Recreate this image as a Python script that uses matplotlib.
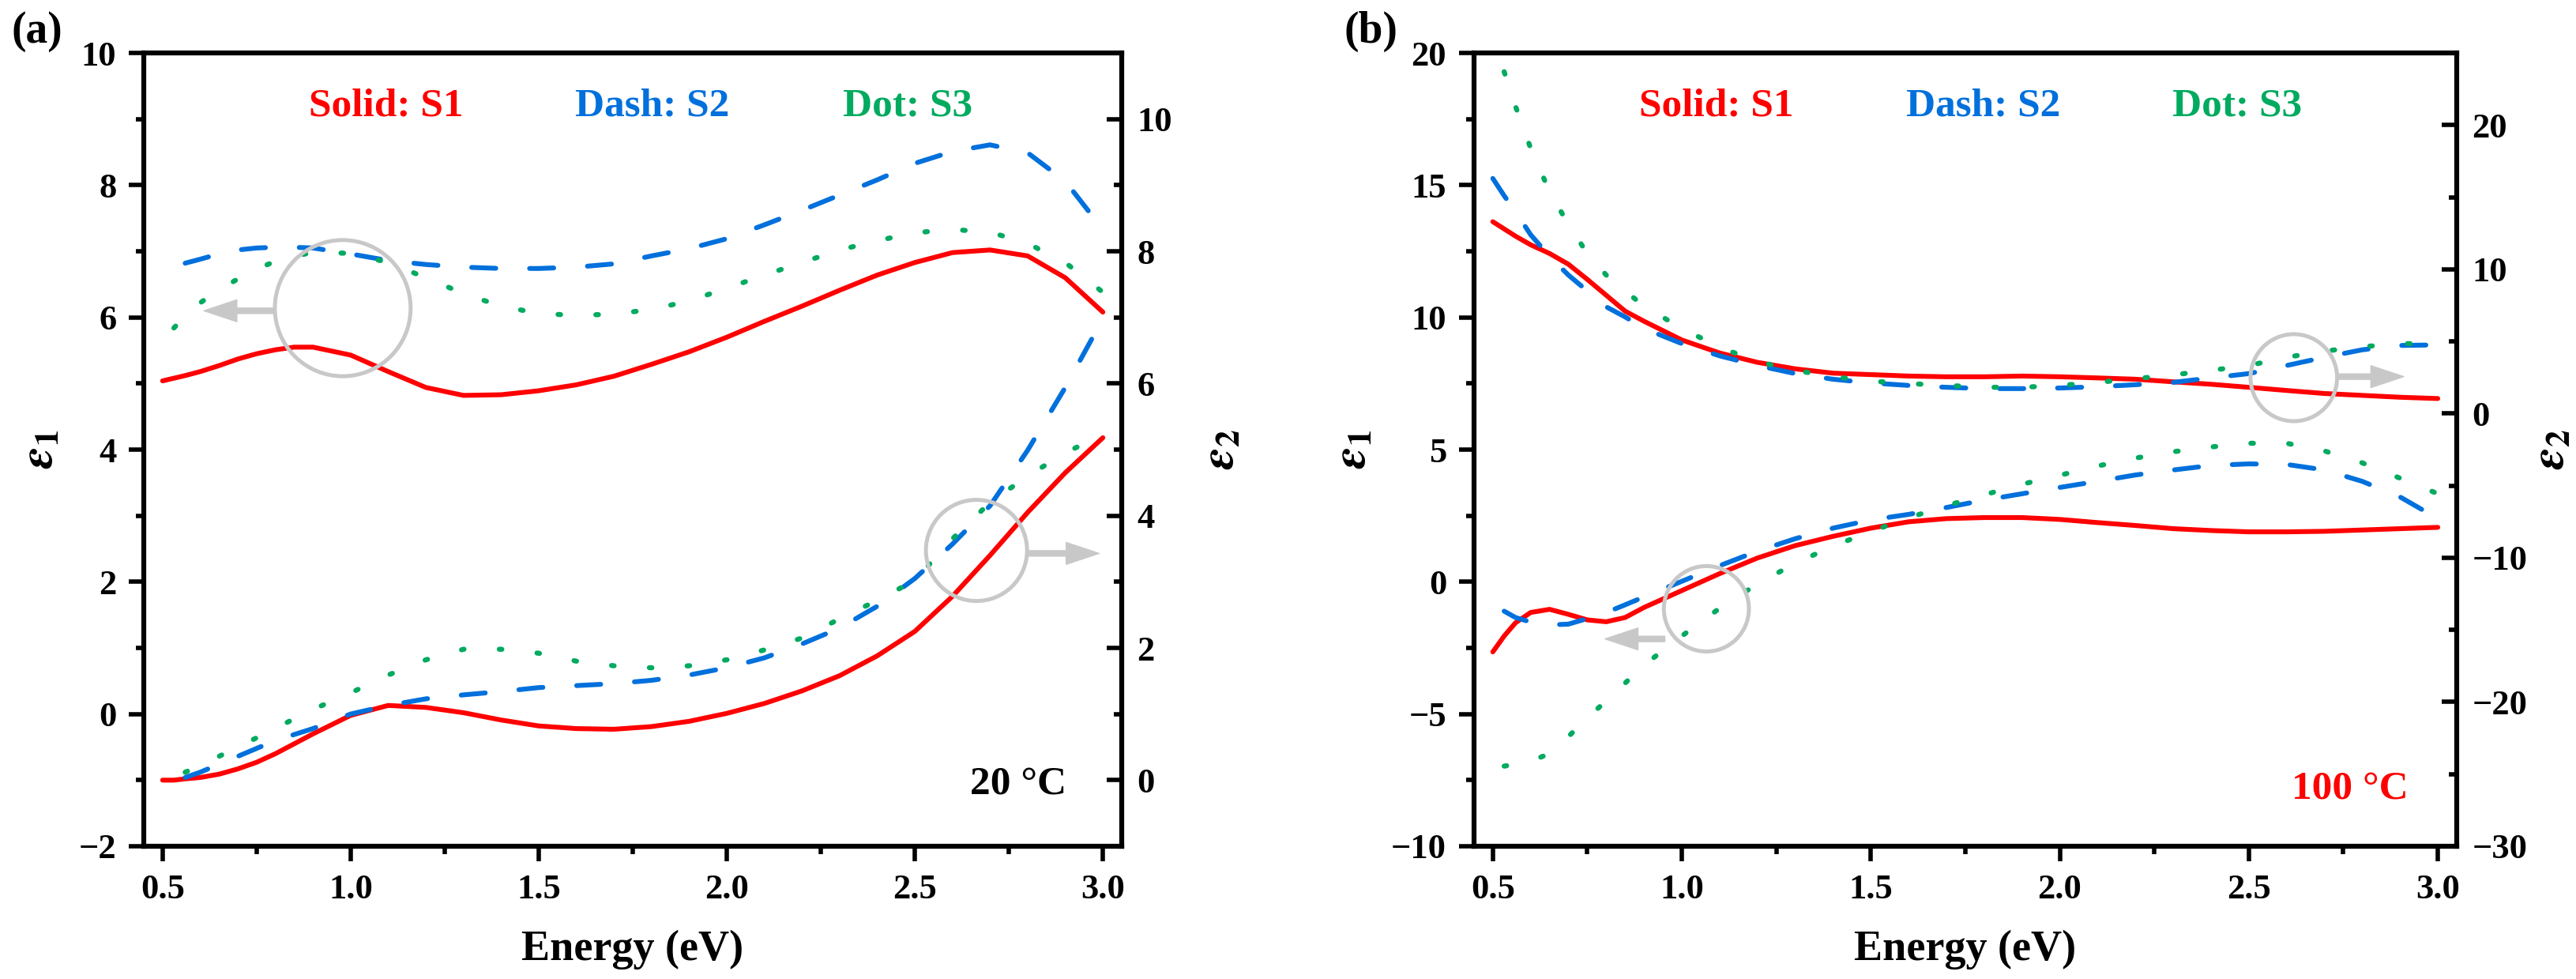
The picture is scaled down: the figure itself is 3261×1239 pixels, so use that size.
import numpy as np
import matplotlib.pyplot as plt
from matplotlib.patches import Ellipse, FancyArrowPatch, ArrowStyle
from matplotlib.ticker import MultipleLocator

plt.rcParams['font.family'] = ['Liberation Serif', 'DejaVu Serif']
plt.rcParams['font.weight'] = 'bold'
plt.rcParams['mathtext.fontset'] = 'stix'

nan = np.nan

# photon energy grid (eV), shared by every curve
energy = [0.5, 0.53, 0.56, 0.6, 0.65, 0.7, 0.75, 0.8, 0.85, 0.9,
          1.0, 1.1, 1.2, 1.3, 1.4, 1.5, 1.6, 1.7, 1.8, 1.9, 2.0,
          2.1, 2.2, 2.3, 2.4, 2.5, 2.6, 2.7, 2.8, 2.9, 3.0]

# (a) 20 C
a_eps1_s1 = [5.04, 5.08, 5.12, 5.18, 5.27, 5.37, 5.45, 5.51, 5.55, 5.55,
             5.43, 5.18, 4.94, 4.82, 4.83, 4.89, 4.98, 5.11, 5.29, 5.48, 5.70,
             5.94, 6.17, 6.41, 6.64, 6.83, 6.98, 7.02, 6.93, 6.60, 6.08]
a_eps1_s2 = [nan, nan, 6.82, 6.88, 6.96, 7.02, 7.05, 7.06, 7.06, 7.05,
             6.96, 6.86, 6.80, 6.76, 6.74, 6.74, 6.76, 6.81, 6.93, 7.04, 7.19,
             7.40, 7.62, 7.85, 8.08, 8.33, 8.51, 8.61, 8.49, 8.06, 7.33]
a_eps1_s3 = [nan, 5.84, 6.02, 6.22, 6.42, 6.58, 6.73, 6.85, 6.93, 6.98,
             6.97, 6.83, 6.60, 6.36, 6.17, 6.06, 6.03, 6.05, 6.12, 6.25, 6.44,
             6.64, 6.83, 7.02, 7.16, 7.28, 7.33, 7.29, 7.12, 6.83, 6.38]
a_eps2_s1 = [0.00, 0.00, 0.02, 0.04, 0.09, 0.17, 0.27, 0.40, 0.55, 0.70,
             0.98, 1.13, 1.10, 1.02, 0.91, 0.82, 0.78, 0.77, 0.81, 0.89, 1.01,
             1.16, 1.35, 1.58, 1.88, 2.25, 2.78, 3.40, 4.05, 4.65, 5.18]
a_eps2_s2 = [nan, nan, 0.04, 0.12, 0.24, 0.36, 0.48, 0.60, 0.69, 0.78,
             1.00, 1.13, 1.23, 1.29, 1.34, 1.40, 1.43, 1.46, 1.51, 1.59, 1.70,
             1.85, 2.06, 2.30, 2.63, 3.05, 3.57, 4.15, 4.99, 5.94, 6.98]
a_eps2_s3 = [nan, nan, 0.12, 0.22, 0.36, 0.50, 0.64, 0.78, 0.93, 1.07,
             1.32, 1.59, 1.82, 1.98, 1.98, 1.92, 1.80, 1.73, 1.70, 1.73, 1.82,
             1.97, 2.15, 2.44, 2.72, 3.02, 3.65, 4.20, 4.60, 4.95, 5.23]

# (b) 100 C
b_eps1_s1 = [-2.65, -2.05, -1.55, -1.16, -1.04, -1.23, -1.44, -1.51, -1.35, -0.97,
             -0.33, 0.31, 0.90, 1.37, 1.72, 2.03, 2.27, 2.39, 2.43, 2.43, 2.36,
             2.24, 2.13, 2.01, 1.94, 1.89, 1.89, 1.91, 1.96, 2.01, 2.06]
b_eps1_s2 = [nan, -1.11, -1.35, -1.52, -1.63, -1.60, -1.39, -1.16, -0.87, -0.57,
             0.02, 0.61, 1.16, 1.63, 2.03, 2.34, 2.55, 2.81, 3.09, 3.33, 3.57,
             3.80, 4.04, 4.23, 4.40, 4.46, 4.44, 4.23, 3.80, 3.21, 2.39]
b_eps1_s3 = [nan, -6.97, -6.90, -6.78, -6.50, -5.85, -5.15, -4.50, -3.83, -3.15,
             -2.05, -1.00, -0.08, 0.70, 1.35, 1.90, 2.42, 2.88, 3.29, 3.69, 4.03,
             4.38, 4.68, 4.92, 5.10, 5.24, 5.24, 4.95, 4.50, 3.92, 3.33]
b_eps2_s1 = [13.3, 12.8, 12.3, 11.7, 11.1, 10.35, 9.3, 8.2, 7.1, 6.4,
             5.1, 4.2, 3.55, 3.1, 2.8, 2.7, 2.6, 2.55, 2.55, 2.6, 2.55,
             2.47, 2.38, 2.2, 2.03, 1.82, 1.6, 1.39, 1.26, 1.13, 1.04]
b_eps2_s2 = [16.3, 15.1, 14.0, 12.4, 10.9, 9.6, 8.5, 7.4, 6.7, 5.9,
             4.85, 4.0, 3.33, 2.77, 2.38, 2.12, 1.95, 1.82, 1.73, 1.73, 1.77,
             1.86, 2.0, 2.16, 2.47, 2.77, 3.33, 3.9, 4.42, 4.72, 4.76]
b_eps2_s3 = [nan, 23.7, 21.3, 18.4, 15.4, 13.1, 11.1, 9.6, 8.5, 7.45,
             5.9, 4.6, 3.6, 3.0, 2.55, 2.25, 2.08, 1.95, 1.82, 1.82, 1.95,
             2.16, 2.42, 2.68, 3.0, 3.33, 3.9, 4.33, 4.63, 4.85, 4.85]

red = '#FF0000'
blue = '#0070DC'
green = '#00AA5F'
gray = '#C8C8C8'

def draw_curves(ax, s1, s2, s3):
    ax.plot(energy, s1, color=red, lw=4.4, solid_capstyle='round', solid_joinstyle='round')
    ax.plot(energy, s2, color=blue, lw=4.4, dashes=(5, 7), dash_capstyle='round')
    ax.plot(energy, s3, color=green, lw=4.6, dashes=(0.5, 7), dash_capstyle='round')

def style(ax, ax2, ylim1, step1, ylim2, step2):
    ax.set_xlim(0.45, 3.05)
    ax.set_ylim(*ylim1)
    ax2.set_ylim(*ylim2)
    ax.xaxis.set_major_locator(MultipleLocator(0.5))
    ax.xaxis.set_minor_locator(MultipleLocator(0.25))
    ax.yaxis.set_major_locator(MultipleLocator(step1))
    ax.yaxis.set_minor_locator(MultipleLocator(step1 / 2))
    ax2.yaxis.set_major_locator(MultipleLocator(step2))
    ax2.yaxis.set_minor_locator(MultipleLocator(step2 / 2))
    ax.xaxis.set_major_formatter(plt.FormatStrFormatter('%.1f'))
    for a in (ax, ax2):
        for sp in a.spines.values():
            sp.set_linewidth(4.4)
    ax.tick_params(which='both', direction='out', width=4, labelsize=32, top=False, right=False)
    ax.tick_params(which='major', length=14)
    ax.tick_params(which='minor', length=7)
    ax.tick_params(axis='x', pad=11)
    ax.tick_params(axis='y', pad=11)
    ax2.tick_params(which='both', direction='in', width=4, labelsize=32, pad=14)
    ax2.tick_params(which='major', length=14)
    ax2.tick_params(which='minor', length=7)
    ax.set_xlabel('Energy (eV)', fontsize=39, fontweight='bold')
    ax.xaxis.set_label_coords(0.5, -0.105)
    ax.set_ylabel(r'$\varepsilon_1$', fontsize=44)
    ax2.set_ylabel(r'$\varepsilon_2$', fontsize=44)

def mark(ax, ax2, center, w, h, tail, tip):
    ax2.add_patch(Ellipse(center, w, h, fill=False, ec=gray, lw=3.6,
                          transform=ax.transData, zorder=5))
    ax2.add_patch(FancyArrowPatch(tail, tip, transform=ax.transData, color=gray,
                                  arrowstyle=ArrowStyle.Simple(head_length=30, head_width=20, tail_width=5),
                                  mutation_scale=1, shrinkA=0, shrinkB=0, zorder=5))

def legend_text(ax2, xs):
    for x, t, c in zip(xs, ['Solid: S1', 'Dash: S2', 'Dot: S3'], [red, blue, green]):
        ax2.text(x, 0.933, t, color=c, fontsize=37, fontweight='bold',
                 ha='center', va='center', transform=ax2.transAxes)

fig = plt.figure(figsize=(32.62, 12.39), dpi=100)

# panel (a)
axa = fig.add_axes([0.0558, 0.1356, 0.3795, 0.8103])
axa2 = axa.twinx()
draw_curves(axa, a_eps1_s1, a_eps1_s2, a_eps1_s3)
draw_curves(axa2, a_eps2_s1, a_eps2_s2, a_eps2_s3)
style(axa, axa2, (-2, 10), 2, (-1, 11), 2)
axa.yaxis.set_label_coords(-0.083, 0.5)
axa2.yaxis.set_label_coords(1.080, 0.5)
mark(axa, axa2, (0.979, 6.14), 0.361, 2.06, (0.80, 6.10), (0.61, 6.10))
mark(axa, axa2, (2.664, 2.475), 0.269, 1.53, (2.80, 2.43), (2.99, 2.43))
legend_text(axa2, [0.248, 0.520, 0.781])
axa2.text(0.894, 0.078, '20 °C', color='black', fontsize=37, fontweight='bold',
          ha='center', va='center', transform=axa2.transAxes)
fig.text(0.0144, 0.968, '(a)', fontsize=40, fontweight='bold', ha='center', va='center')

# panel (b)
axb = fig.add_axes([0.5720, 0.1356, 0.3814, 0.8103])
axb2 = axb.twinx()
draw_curves(axb, b_eps1_s1, b_eps1_s2, b_eps1_s3)
draw_curves(axb2, b_eps2_s1, b_eps2_s2, b_eps2_s3)
style(axb, axb2, (-10, 20), 5, (-30, 25), 10)
axb.yaxis.set_label_coords(-0.100, 0.5)
axb2.yaxis.set_label_coords(1.075, 0.5)
mark(axb, axb2, (2.619, 7.72), 0.229, 3.29, (2.735, 7.76), (2.91, 7.76))
mark(axb, axb2, (1.065, -1.02), 0.225, 3.23, (0.955, -2.16), (0.797, -2.16))
legend_text(axb2, [0.247, 0.518, 0.777])
axb2.text(0.891, 0.072, '100 °C', color=red, fontsize=37, fontweight='bold',
          ha='center', va='center', transform=axb2.transAxes)
fig.text(0.532, 0.968, '(b)', fontsize=40, fontweight='bold', ha='center', va='center')

fig.savefig('out.png', dpi=100)
